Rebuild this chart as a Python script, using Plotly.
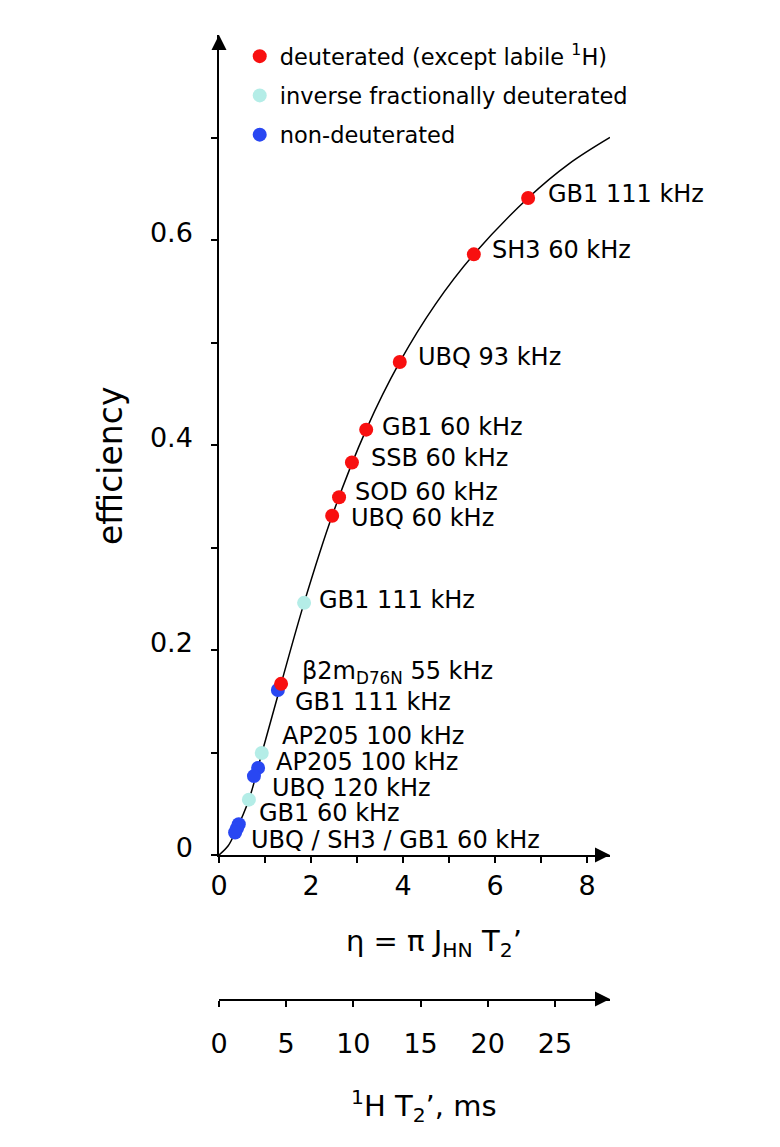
import plotly.graph_objects as go

# ---------------- data ----------------
curve_eta = [0.0, 0.2, 0.35, 0.65, 0.93, 1.35, 1.85, 2.46, 3.2, 3.93, 4.7, 5.54, 6.72, 7.6, 8.5]
curve_eff = [0.0, 0.009, 0.022, 0.054, 0.099, 0.167, 0.246, 0.331, 0.415, 0.481, 0.537, 0.586, 0.641, 0.674, 0.700]

red_eta = [6.72, 5.54, 3.93, 3.20, 2.89, 2.61, 2.46, 1.35]
red_eff = [0.641, 0.586, 0.481, 0.415, 0.383, 0.349, 0.331, 0.167]
red_labels = ["GB1 111 kHz", "SH3 60 kHz", "UBQ 93 kHz", "GB1 60 kHz", "SSB 60 kHz",
              "SOD 60 kHz", "UBQ 60 kHz", "β2m<sub>D76N</sub> 55 kHz"]

cyan_eta = [1.85, 0.93, 0.65]
cyan_eff = [0.246, 0.0995, 0.054]
cyan_labels = ["GB1 111 kHz", "AP205 100 kHz", "GB1 60 kHz"]

blue_eta = [1.28, 0.85, 0.76, 0.43, 0.39, 0.35]
blue_eff = [0.161, 0.085, 0.077, 0.030, 0.026, 0.022]
blue_labels = ["GB1 111 kHz", "AP205 100 kHz", "UBQ 120 kHz", None, "UBQ / SH3 / GB1 60 kHz", None]

series_names = ["deuterated (except labile <sup>1</sup>H)",
                "inverse fractionally deuterated",
                "non-deuterated"]

x_ticks = [0, 2, 4, 6, 8]
x_minor = [1, 3, 5, 7]
y_ticks = [0, 0.2, 0.4, 0.6]
y_ticktext = ["0", "0.2", "0.4", "0.6"]
y_minor = [0.1, 0.3, 0.5, 0.7]
t2_ticks = [0, 5, 10, 15, 20, 25]

# ---------------- styles / label offsets (pixels) ----------------
RED, CYAN, BLUE = "#f81010", "#b4ede7", "#2947f2"
FONT = "DejaVu Sans"
red_off = [(18, 4), (16, 4), (16, 5), (14, 3), (17, 4), (14, 5), (17, -2), (19, 11)]
cyan_off = [(13, 3), (18, 17), (8, -13)]
blue_off = [(15, -12), (16, 6), (16, -12), None, (12, -12), None]

fig = go.Figure()

fig.add_trace(go.Scatter(x=curve_eta, y=curve_eff, mode="lines",
                         line=dict(color="black", width=1.5, shape="spline", smoothing=1.0),
                         showlegend=False, hoverinfo="skip"))

for name, xs, ys, col, rank in [(series_names[2], blue_eta, blue_eff, BLUE, 3),
                                (series_names[1], cyan_eta, cyan_eff, CYAN, 2),
                                (series_names[0], red_eta, red_eff, RED, 1)]:
    fig.add_trace(go.Scatter(x=xs, y=ys, mode="markers", name=name, legendgroup="g%d" % rank,
                             legendrank=rank,
                             marker=dict(color=col, size=14, line=dict(width=0))))

# dummy trace to create the second (T2') axis
fig.add_trace(go.Scatter(x=[None], y=[None], xaxis="x2", yaxis="y2", showlegend=False))

annotations = []
for xs, ys, labs, offs in [(red_eta, red_eff, red_labels, red_off),
                           (cyan_eta, cyan_eff, cyan_labels, cyan_off),
                           (blue_eta, blue_eff, blue_labels, blue_off)]:
    for x, y, lab, off in zip(xs, ys, labs, offs):
        if lab is None:
            continue
        annotations.append(dict(x=x, y=y, xref="x", yref="y", text=lab, showarrow=False,
                                xanchor="left", yanchor="middle", xshift=off[0], yshift=off[1],
                                font=dict(family=FONT, size=24, color="black")))

# axis titles
annotations.append(dict(x=-0.276, y=0.553, xref="paper", yref="paper", text="efficiency",
                        textangle=-90, showarrow=False, xanchor="center", yanchor="middle",
                        font=dict(family=FONT, size=33, color="black")))
annotations.append(dict(x=0.55, y=0.058, xref="paper", yref="paper",
                        text="η = π J<sub>HN</sub> T<sub>2</sub>’",
                        showarrow=False, xanchor="center", yanchor="middle",
                        font=dict(family=FONT, size=29, color="black")))
annotations.append(dict(x=0.524, y=-0.111, xref="paper", yref="paper",
                        text="<sup>1</sup>H T<sub>2</sub>’, ms",
                        showarrow=False, xanchor="center", yanchor="middle",
                        font=dict(family=FONT, size=29, color="black")))

ydom0 = (999 - 855) / 964.0

shapes = [
    # x-axis arrow head
    dict(type="path", xref="paper", yref="paper", xsizemode="pixel", ysizemode="pixel",
         xanchor=1.0, yanchor=ydom0, path="M 0 0 L -15 7.5 L -15 -7.5 Z",
         fillcolor="black", line=dict(width=0)),
    # y-axis arrow head
    dict(type="path", xref="paper", yref="paper", xsizemode="pixel", ysizemode="pixel",
         xanchor=0.0, yanchor=1.0, path="M 0 0 L -7.5 -15 L 7.5 -15 Z",
         fillcolor="black", line=dict(width=0)),
    # T2' axis arrow head
    dict(type="path", xref="paper", yref="paper", xsizemode="pixel", ysizemode="pixel",
         xanchor=1.0, yanchor=0.0, path="M 0 0 L -15 7.5 L -15 -7.5 Z",
         fillcolor="black", line=dict(width=0)),
]

axis_common = dict(showgrid=False, zeroline=False, showline=True, linecolor="black",
                   linewidth=1.5, ticks="outside", ticklen=6, tickwidth=1.5, tickcolor="black",
                   tickfont=dict(family=FONT, size=27, color="black"))

# the page body adds an 8 px offset, so the figure margins compensate for it
fig.update_layout(
    width=780, height=1147,
    margin=dict(l=211, r=178, t=27, b=156),
    paper_bgcolor="white", plot_bgcolor="white",
    xaxis=dict(range=[0, 8.5], domain=[0, 1], anchor="y", tickvals=x_ticks,
               minor=dict(tickvals=x_minor, ticks="outside", ticklen=6, tickwidth=1.5, tickcolor="black"),
               ticklabelstandoff=0, **axis_common),
    yaxis=dict(range=[0, 0.8], domain=[ydom0, 1], anchor="x", tickvals=y_ticks, ticktext=y_ticktext,
               minor=dict(tickvals=y_minor, ticks="outside", ticklen=6, tickwidth=1.5, tickcolor="black"),
               ticklabelstandoff=13, ticklabelshift=-7, **axis_common),
    xaxis2=dict(range=[0, 29.1], domain=[0, 1], anchor="y2", tickvals=t2_ticks,
                ticklabelstandoff=14, **axis_common),
    yaxis2=dict(range=[0, 1], domain=[0, 0.02], anchor="x2", visible=False),
    legend=dict(x=0.053, y=1.0, xanchor="left", yanchor="top", traceorder="grouped",
                tracegroupgap=7, bgcolor="rgba(0,0,0,0)",
                font=dict(family=FONT, size=22.5, color="black")),
    annotations=annotations,
    shapes=shapes,
    font=dict(family=FONT, color="black"),
)

fig.write_html("out.html")
